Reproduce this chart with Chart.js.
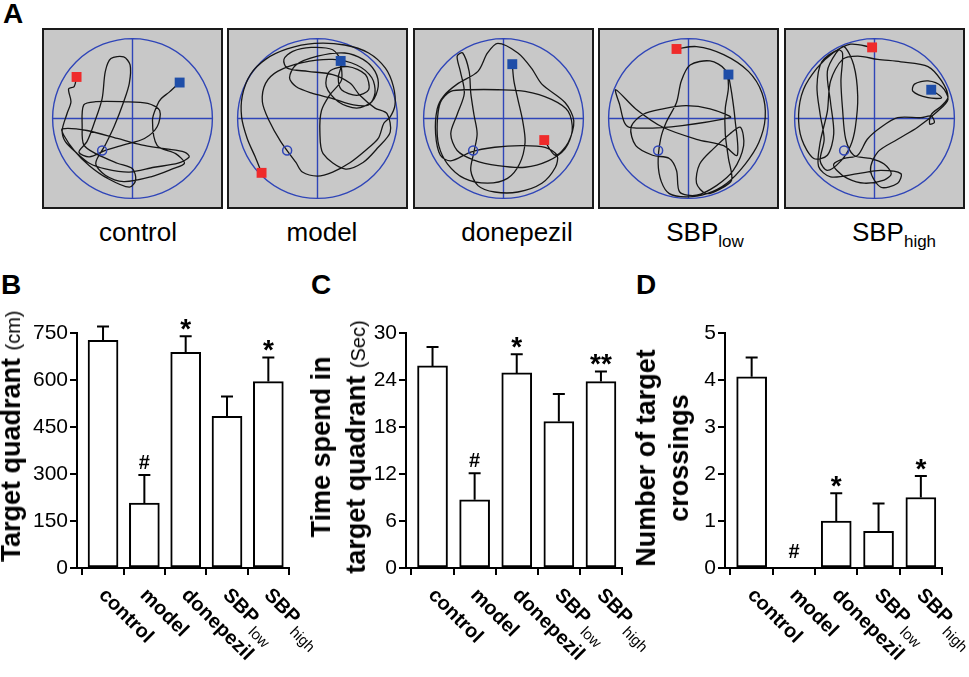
<!DOCTYPE html>
<html>
<head>
<meta charset="utf-8">
<script src="https://cdn.jsdelivr.net/npm/chart.js@4.4.1/dist/chart.umd.min.js"></script>
<style>
body{margin:0;background:#fff;width:969px;height:677px;overflow:hidden;position:relative;font-family:"Liberation Sans",Arial,sans-serif;color:#000}
.abs{position:absolute;white-space:nowrap}
.pool{position:absolute;top:28px;width:177px;height:177px;border:2px solid #1a1a1a;background:#c8c8c8}
.pool canvas{display:block}
.letter{font-weight:bold;font-size:28px;line-height:28px}
.grp{font-size:26px;line-height:26px;top:219px;width:200px;text-align:center}
.grp sub{font-size:17px;vertical-align:-6px;line-height:0}
.ytitle{font-weight:bold;font-size:27px;text-align:center;transform:translate(-50%,-50%) rotate(-90deg)}
.ytitle span{font-weight:normal;font-size:20px}
.bar{position:absolute;top:300px}
</style>
</head>
<body>
<div class="abs letter" style="left:3px;top:0px">A</div>
<div class="abs letter" style="left:1px;top:271px">B</div>
<div class="abs letter" style="left:311px;top:271px">C</div>
<div class="abs letter" style="left:636px;top:271px">D</div>

<div class="pool" style="left:42px"><canvas id="p0" width="177" height="177"></canvas></div>
<div class="pool" style="left:227px"><canvas id="p1" width="177" height="177"></canvas></div>
<div class="pool" style="left:413px"><canvas id="p2" width="177" height="177"></canvas></div>
<div class="pool" style="left:598px"><canvas id="p3" width="177" height="177"></canvas></div>
<div class="pool" style="left:784px"><canvas id="p4" width="177" height="177"></canvas></div>

<div class="abs grp" style="left:38px">control</div>
<div class="abs grp" style="left:222px">model</div>
<div class="abs grp" style="left:417px">donepezil</div>
<div class="abs grp" style="left:605px">SBP<sub>low</sub></div>
<div class="abs grp" style="left:794px">SBP<sub>high</sub></div>

<canvas id="cB" class="bar" width="340" height="377" style="left:0px"></canvas>
<canvas id="cC" class="bar" width="370" height="377" style="left:300px"></canvas>
<canvas id="cD" class="bar" width="329" height="377" style="left:640px"></canvas>

<div class="abs ytitle" style="left:12px;top:436px;line-height:30px">Target quadrant <span>(cm)</span></div>
<div class="abs ytitle" style="left:340px;top:447px;line-height:35px">Time spend in<br>target quadrant <span>(Sec)</span></div>
<div class="abs ytitle" style="left:663px;top:458px;line-height:33px">Number of target<br>crossings</div>

<script>
// Probe trial: swim paths (A) and quantification (B-D)

const groups = ['control', 'model', 'donepezil', 'SBP', 'SBP'];
const groupSubs = ['', '', '', 'low', 'high'];

// B: distance in target quadrant (cm)
const quadDist = [727, 207, 688, 484, 595];
const quadDistSem = [44, 90, 52, 63, 77];
const quadDistMarks = ['', '#', '*', '', '*'];
const quadDistTicks = [0, 150, 300, 450, 600, 750];

// C: time in target quadrant (s)
const quadTime = [25.8, 8.7, 24.9, 18.7, 23.8];
const quadTimeSem = [2.4, 3.4, 2.4, 3.5, 1.3];
const quadTimeMarks = ['', '#', '*', '', '**'];
const quadTimeTicks = [0, 6, 12, 18, 24, 30];

// D: target crossings
const crossings = [4.07, 0, 1.0, 0.78, 1.5];
const crossingsSem = [0.41, 0, 0.59, 0.59, 0.46];
const crossingsMarks = ['', '#', '*', '', '*'];
const crossingsTicks = [0, 1, 2, 3, 4, 5];

// A: pool coordinates, pool radius = 100
const platform = [-38, -40];
const redPts = [[-70, 52], [-70, -68], [51, -27], [-15, 87], [-3, 89]];
const bluePts = [[59, 45], [29, 72], [11, 68], [50, 55], [71, 36]];

const controlPath = [[-70,52],[-73,40],[-80,37],[-77,21],[-82,6],[-88,-15],[-84,-29],[-69,-44],[-54,-56],[-34,-63],[-4,-67],[27,-61],[57,-56],[71,-48],[65,-42],[42,-38],[11,-33],[-19,-25],[-57,-15],[-88,-13],[-86,-21],[-73,-40],[-54,-59],[-31,-75],[-4,-86],[4,-77],[0,-63],[-19,-56],[-46,-44],[-61,-33],[-63,-10],[-61,17],[-46,21],[-11,21],[19,19],[34,10],[31,-10],[15,-25],[-11,-33],[-34,-40],[-54,-48],[-67,-42],[-57,-29],[-48,-6],[-38,25],[-34,59],[-27,75],[-11,77],[-3,67],[-4,44],[-11,21],[-23,-10],[-34,-33],[-46,-56],[-34,-71],[-11,-79],[23,-73],[50,-63],[65,-56],[54,-44],[31,-34],[25,-2],[31,17],[36,25],[46,33],[59,45]];

const modelPath = [[-70,-68],[-78,-48],[-88,-25],[-95,2],[-94,29],[-84,55],[-65,74],[-38,87],[-4,94],[34,92],[64,82],[85,63],[95,40],[97,17],[91,2],[83,-6],[76,-25],[60,-40],[41,-55],[19,-67],[0,-72],[-19,-67],[-27,-55],[-46,-29],[-61,-2],[-69,21],[-65,44],[-50,59],[-19,70],[19,74],[49,67],[68,51],[72,32],[64,17],[45,17],[19,25],[-8,32],[-27,40],[-35,51],[-27,67],[0,78],[34,82],[57,74],[72,59],[76,40],[68,21],[49,13],[26,21],[11,40],[15,59],[38,65],[60,55],[64,36],[49,29],[30,36],[26,51],[30,70],[19,86],[-8,89],[-31,84],[-42,74],[-38,63],[-12,59],[19,55],[41,44],[53,29],[72,13],[87,6],[91,-17],[76,-36],[57,-55],[34,-63],[7,-44],[3,-17],[5,10],[15,29],[30,48],[29,72]];

const donepezilPath = [[11,68],[13,47],[18,24],[24,-3],[27,-30],[20,-57],[5,-75],[-20,-81],[-49,-75],[-70,-57],[-81,-34],[-83,-7],[-79,20],[-66,34],[-41,36],[-7,36],[27,34],[60,24],[81,9],[86,-15],[77,-38],[56,-53],[27,-61],[-7,-59],[-37,-52],[-58,-40],[-66,-19],[-58,5],[-49,32],[-54,59],[-58,78],[-51,82],[-43,59],[-41,32],[-37,5],[-33,-19],[-37,-42],[-41,-65],[-32,-84],[-11,-92],[18,-92],[48,-81],[65,-61],[67,-46],[52,-36],[22,-34],[-11,-36],[-41,-42],[-66,-53],[-79,-46],[-85,-19],[-83,12],[-75,28],[-58,43],[-32,59],[-20,82],[-7,94],[18,82],[35,63],[48,43],[77,20],[88,-3],[81,-30],[65,-46],[51,-27]];

const sbpLowPath = [[-15,87],[10,90],[44,80],[75,59],[92,32],[96,1],[88,-30],[71,-57],[48,-81],[23,-94],[-3,-98],[-24,-94],[-34,-79],[-38,-56],[-35,-26],[-28,-5],[-15,20],[-9,47],[2,67],[27,72],[46,61],[50,40],[46,12],[46,-19],[50,-50],[54,-77],[40,-88],[22,-94],[10,-81],[14,-57],[31,-38],[52,-19],[65,-11],[69,-34],[56,-65],[35,-84],[10,-96],[-11,-92],[-15,-65],[-24,-50],[-45,-46],[-66,-34],[-72,-11],[-57,5],[-32,12],[-3,16],[27,12],[52,1],[-74,-11],[-87,20],[-91,36],[-66,12],[-32,-11],[10,-26],[44,-34],[61,-46],[58,1],[54,32],[50,55]];

const sbpHighPath = [[-3,89],[-30,93],[-52,82],[-72,63],[-89,36],[-95,5],[-91,-26],[-76,-50],[-59,-46],[-51,-19],[-55,20],[-59,59],[-48,82],[-38,90],[-26,67],[-21,28],[-24,-11],[-30,-34],[-42,-53],[-59,-65],[-68,-53],[-63,-26],[-68,5],[-72,40],[-66,71],[-46,86],[-40,82],[-42,47],[-40,12],[-36,-26],[-26,-46],[-5,-50],[12,-57],[21,-69],[12,-77],[-13,-81],[-34,-75],[-47,-65],[-51,-57],[-38,-50],[-21,-46],[-9,-26],[8,-11],[29,1],[58,1],[71,3],[75,-5],[69,-7],[71,5],[84,16],[92,27],[84,47],[67,65],[33,71],[4,74],[-21,78],[-40,74],[-55,47],[-59,9],[-68,-30],[-70,-60],[-55,-73],[-21,-69],[8,-65],[33,-69],[29,-81],[8,-86],[-5,-65],[4,-42],[29,-26],[54,-11],[79,9],[92,24],[84,40],[67,47],[50,43],[48,34],[67,26],[84,26],[71,36]];

const paths = [controlPath, modelPath, donepezilPath, sbpLowPath, sbpHighPath];

const FONT = '"Liberation Sans", Arial, sans-serif';
Chart.defaults.font.family = FONT;
Chart.defaults.color = '#000';

//-----POOL
const poolFrame = {
  id: 'poolFrame',
  beforeDatasetsDraw(chart){
    const c = chart.ctx, xs = chart.scales.x, ys = chart.scales.y;
    const x0 = xs.getPixelForValue(0), y0 = ys.getPixelForValue(0);
    const r = xs.getPixelForValue(100) - x0;
    c.save();
    c.strokeStyle = '#2f45b8';
    c.lineWidth = 1.4;
    c.beginPath();
    c.arc(x0, y0, r, 0, Math.PI * 2);
    c.moveTo(x0 - r, y0); c.lineTo(x0 + r, y0);
    c.moveTo(x0, y0 - r); c.lineTo(x0, y0 + r);
    c.stroke();
    c.restore();
  }
};

function drawPool(id, path, red, blue){
  new Chart(document.getElementById(id), {
    type: 'scatter',
    data: {datasets: [
      {data: [{x: red[0], y: red[1]}], pointStyle: 'rect', pointRadius: 7, pointHoverRadius: 7, backgroundColor: '#ef2b2b', borderWidth: 0},
      {data: [{x: blue[0], y: blue[1]}], pointStyle: 'rect', pointRadius: 7, pointHoverRadius: 7, backgroundColor: '#1f4ea8', borderWidth: 0},
      {data: [{x: platform[0], y: platform[1]}], pointStyle: 'circle', pointRadius: 4.5, backgroundColor: 'rgba(0,0,0,0)', borderColor: '#2f45b8', borderWidth: 1.5},
      {data: path.map(p => ({x: p[0], y: p[1]})), showLine: true, pointRadius: 0, borderColor: '#161616', borderWidth: 1.3, tension: 0.3}
    ]},
    options: {
      responsive: false, animation: false,
      layout: {padding: 0},
      plugins: {legend: {display: false}, tooltip: {enabled: false}},
      scales: {
        x: {min: -102, max: 102, display: false},
        y: {min: -102, max: 102, display: false}
      }
    },
    plugins: [poolFrame]
  });
}

paths.forEach((p, i) => drawPool('p' + i, p, redPts[i], bluePts[i]));

//-----BARS
const errorBars = {
  id: 'errorBars',
  afterDatasetsDraw(chart, args, opts){
    const c = chart.ctx, xs = chart.scales.x, ys = chart.scales.y;
    const vals = chart.data.datasets[0].data;
    c.save();
    c.strokeStyle = '#000';
    c.fillStyle = '#000';
    c.lineWidth = 2;
    vals.forEach((p, i) => {
      const x = xs.getPixelForValue(p.x);
      const top = ys.getPixelForValue(p.y + opts.sem[i]);
      if (opts.sem[i] > 0){
        c.beginPath();
        c.moveTo(x, ys.getPixelForValue(p.y));
        c.lineTo(x, top);
        c.moveTo(x - 6, top);
        c.lineTo(x + 6, top);
        c.stroke();
      }
      const m = opts.marks[i];
      if (m){
        c.font = m.indexOf('#') >= 0 ? 'bold 20px ' + FONT : 'bold 28px ' + FONT;
        c.textAlign = 'center';
        c.textBaseline = 'alphabetic';
        const mt = c.measureText(m);
        const gap = p.y === 0 ? 10 : 6;
        c.fillText(m, x, top - gap - mt.actualBoundingBoxDescent);
      }
    });
    c.restore();
  }
};

const catLabels = {
  id: 'catLabels',
  afterDraw(chart){
    const c = chart.ctx, xs = chart.scales.x, bottom = chart.chartArea.bottom;
    c.save();
    c.fillStyle = '#000';
    c.textAlign = 'left';
    c.textBaseline = 'alphabetic';
    groups.forEach((g, i) => {
      const x = xs.getPixelForValue(i);
      c.save();
      c.translate(x - 5, bottom + 28);
      c.rotate(Math.PI / 4);
      c.font = 'bold 20px ' + FONT;
      c.fillText(g, 0, 0);
      if (groupSubs[i]){
        const w = c.measureText(g).width;
        c.font = '15px ' + FONT;
        c.fillText(groupSubs[i], w + 3, 8);
      }
      c.restore();
    });
    c.restore();
  }
};

function drawBars(id, vals, sem, marks, tickLabels, yWidth, padRight){
  const yMax = tickLabels[tickLabels.length - 1];
  new Chart(document.getElementById(id), {
    type: 'bar',
    data: {datasets: [{
      data: vals.map((v, i) => ({x: i, y: v})),
      backgroundColor: '#fff', borderColor: '#000', borderWidth: 2,
      borderSkipped: false, barThickness: 30
    }]},
    options: {
      responsive: false, animation: false,
      layout: {padding: {top: 33, right: padRight, bottom: 0, left: 0}},
      plugins: {
        legend: {display: false}, tooltip: {enabled: false},
        errorBars: {sem: sem, marks: marks}
      },
      scales: {
        x: {
          type: 'linear', min: -0.63, max: 4.5, offset: false,
          afterBuildTicks: s => { s.ticks = vals.map((v, i) => ({value: i})); },
          afterFit: s => { s.height = 109; },
          ticks: {display: false},
          grid: {drawOnChartArea: false, drawTicks: true, tickLength: 7, color: '#000', lineWidth: 2},
          border: {color: '#000', width: 2}
        },
        y: {
          min: 0, max: yMax,
          afterBuildTicks: s => {
            const t = [];
            tickLabels.forEach((v, k) => {
              t.push({value: v});
              if (k < tickLabels.length - 1) t.push({value: (v + tickLabels[k + 1]) / 2});
            });
            s.ticks = t;
          },
          afterFit: s => { s.width = yWidth; },
          ticks: {
            font: {size: 21}, color: '#000', padding: 2,
            callback: v => tickLabels.includes(v) ? String(v) : ''
          },
          grid: {drawOnChartArea: false, drawTicks: true, tickLength: 7, color: '#000', lineWidth: 2},
          border: {color: '#000', width: 2}
        }
      }
    },
    plugins: [errorBars, catLabels]
  });
}

drawBars('cB', quadDist, quadDistSem, quadDistMarks, quadDistTicks, 77, 51);
drawBars('cC', quadTime, quadTimeSem, quadTimeMarks, quadTimeTicks, 106, 48);
drawBars('cD', crossings, crossingsSem, crossingsMarks, crossingsTicks, 85, 27);
</script>
</body>
</html>
